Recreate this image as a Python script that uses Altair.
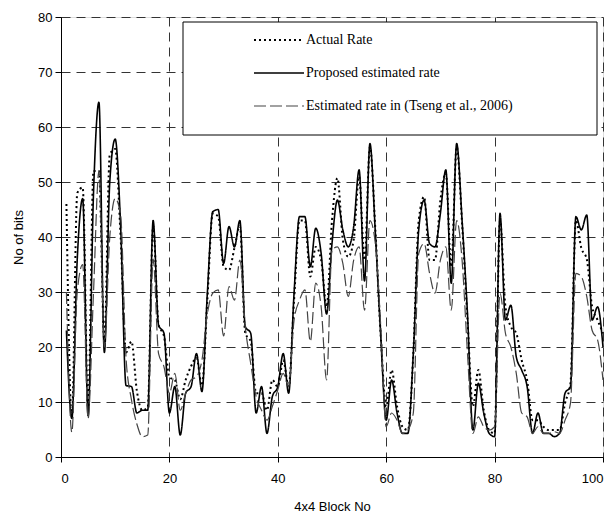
import altair as alt
import pandas as pd

block_no = list(range(1, 101))

actual_rate = [
    46, 7, 48, 49, 9, 52, 52, 21, 55, 56,
    40, 19, 21, 12, 8.5, 9, 42, 24, 22, 14.5,
    14, 10.5, 14, 16.5, 18, 13, 28.5, 44.3, 43.7, 34.6,
    34, 38, 42, 22.5, 21, 11.6, 11.6, 8.5, 14, 12.8,
    17.6, 12.8, 28.5, 43, 43, 32.8, 38.2, 35.8, 27.3, 43,
    50.7, 39.5, 36.4, 39.5, 51, 35.8, 56.4, 41.3, 21.9, 9.2,
    15.8, 9.2, 5.5, 4.9, 18.8, 43, 47.3, 35.8, 35.8, 46.7,
    51.6, 34.6, 56.4, 42.5, 24.9, 9.2, 15.8, 8.5, 4.9, 4.3,
    43, 27.3, 23.7, 22.5, 17.6, 14, 6.7, 6.7, 5.5, 4.9,
    4.9, 4.9, 9.8, 13.4, 43, 38, 36, 27.3, 24.9, 22.5,
]

proposed_rate = [
    23, 7, 36, 47, 7.5, 48, 64.5, 19, 50, 57.8,
    42, 13, 12.8, 8, 8.5, 8.5, 43, 24, 22.5, 8,
    12.8, 4, 11.6, 12.8, 18.8, 11.9, 29.8, 44.6, 45, 35.2,
    41.9, 38.2, 43, 23.7, 22.5, 8, 12.8, 4.3, 11, 12.8,
    18.8, 11.6, 29.8, 43.7, 43.7, 34.6, 41.6, 37, 26, 38.8,
    46.7, 41.3, 38.2, 41.9, 52.2, 32, 57, 40.7, 21.9, 6.7,
    14, 8, 4.3, 4.3, 18.8, 41.3, 46.7, 38.8, 38.2, 44.3,
    52.2, 31.6, 57, 43, 26, 4.9, 13.4, 8, 4.3, 3.7,
    44.3, 24.9, 27.6, 18.2, 15.8, 12.8, 4.3, 8, 4.3, 4.3,
    3.7, 4.3, 11.6, 12.8, 43.7, 41.3, 44, 24.9, 27.3, 20,
]

tseng_rate = [
    30, 4.5, 30, 35, 7, 30, 52, 20, 40, 47,
    44, 18, 10.4, 6, 3.7, 4, 36, 18.8, 16.4, 11.6,
    15.2, 8.5, 11.6, 14, 14.6, 17.6, 26, 29.8, 30.4, 22,
    31, 28.5, 35.8, 23.7, 17, 11, 8.5, 6.7, 9.2, 12.2,
    15.2, 12.8, 24.9, 28.5, 30.4, 21, 31.6, 27.3, 14, 37.6,
    38.2, 35.2, 29.2, 35.8, 38.2, 26.7, 43, 38.8, 23.7, 5.5,
    8, 6.7, 4.3, 4.9, 8, 37, 38.8, 33.4, 29.8, 35.8,
    38.2, 26.7, 43, 35.8, 18.8, 4.3, 7.3, 5.5, 4.9, 5.5,
    29.8, 22.5, 20, 15.2, 8, 7.3, 4.3, 5.5, 4.3, 4.3,
    4.6, 4.3, 6.7, 9.8, 33.4, 32.8, 29.2, 23, 21.3, 14,
]

series_names = [
    "Actual Rate",
    "Proposed estimated rate",
    "Estimated rate in (Tseng et al., 2006)",
]

x_ticks = [0, 20, 40, 60, 80, 100]
y_ticks = [0, 10, 20, 30, 40, 50, 60, 70, 80]

df = pd.DataFrame({
    "block": block_no * 3,
    "bits": actual_rate + proposed_rate + tseng_rate,
    "series": [series_names[0]] * 100 + [series_names[1]] * 100 + [series_names[2]] * 100,
})

legend = alt.Legend(
    orient="none", legendX=192, legendY=-3, title=None,
    symbolType="stroke", symbolSize=2500, rowPadding=-17,
    labelFont="Liberation Serif", labelFontSize=14, labelColor="black",
    labelOffset=1, labelLimit=400,
)

color_scale = alt.Scale(domain=series_names, range=["#000000", "#000000", "#444444"])
dash_scale = alt.Scale(domain=series_names, range=[[2, 3], [1, 0], [12, 4]])
width_scale = alt.Scale(domain=series_names, range=[2.0, 1.2, 0.8])

x_axis = alt.Axis(
    values=x_ticks, grid=True, gridDash=[9, 6], gridColor="#333333", gridWidth=1,
    tickSize=5, tickColor="black", domainColor="black",
    labelFont="Liberation Sans", labelFontSize=13, labelColor="black", labelPadding=10,
    title="4x4 Block No", titleFont="Liberation Sans", titleFontSize=13,
    titleFontWeight="normal", titleColor="black", titlePadding=15,
)
y_axis = alt.Axis(
    values=y_ticks, grid=True, gridDash=[9, 6], gridColor="#333333", gridWidth=1,
    tickSize=6, tickColor="black", domainColor="black",
    labelFont="Liberation Sans", labelFontSize=13, labelColor="black", labelPadding=3,
    title="No of bits", titleFont="Liberation Sans", titleFontSize=13,
    titleFontWeight="normal", titleColor="black", titlePadding=12,
)

lines = alt.Chart(df).mark_line(interpolate="monotone").encode(
    x=alt.X("block:Q", scale=alt.Scale(domain=[0, 100], nice=False), axis=x_axis),
    y=alt.Y("bits:Q", scale=alt.Scale(domain=[0, 80], nice=False), axis=y_axis),
    color=alt.Color("series:N", scale=color_scale, legend=legend, sort=series_names),
    strokeDash=alt.StrokeDash("series:N", scale=dash_scale, legend=legend, sort=series_names),
    strokeWidth=alt.StrokeWidth("series:N", scale=width_scale, legend=legend, sort=series_names),
)

box = alt.Chart(pd.DataFrame({"box": [0]})).mark_rect(
    fill="white", stroke="black", strokeWidth=1
).encode(
    x=alt.value(122), x2=alt.value(536), y=alt.value(5), y2=alt.value(118)
)

chart = alt.layer(lines, box).properties(
    width=542, height=440,
    autosize=alt.AutoSizeParams(type="none"),
    padding={"left": 53, "top": 9, "right": 4, "bottom": 61},
).configure_view(stroke="black", strokeWidth=1).configure(background="white")

chart.save("out.html", embed_options={"renderer": "svg", "actions": False})
